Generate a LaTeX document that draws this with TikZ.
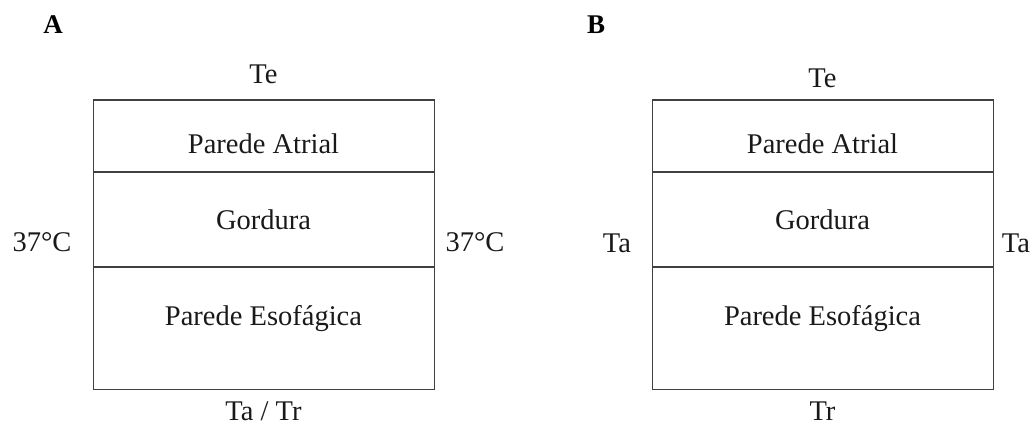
\documentclass[tikz,border=0pt]{standalone}
\usepackage{fontspec}
\setmainfont{Liberation Serif}
\begin{document}
\begin{tikzpicture}[x=1pt,y=-1pt,
  box/.style={draw=black!75,line width=1.3pt,minimum width=341pt,minimum height=289.5pt,inner sep=0pt,anchor=north west},
  sep/.style={draw=black!75,line width=1.3pt},
  lbl/.style={font=\fontsize{28.5}{32}\selectfont,anchor=base,inner sep=0pt,text=black!90},
  panel/.style={font=\fontsize{27}{30}\selectfont\bfseries,anchor=base,inner sep=0pt}]
\useasboundingbox (0,0) rectangle (1032,427);
% Panel A
\node[panel] (pA) at (53,34) {A};
\node[box] (a) at (93,99.5) {};
\draw[sep] ([yshift=-72.5pt]a.north west) -- ([yshift=-72.5pt]a.north east);
\draw[sep] ([yshift=-167.5pt]a.north west) -- ([yshift=-167.5pt]a.north east);
\node[lbl] (aTe) at (263.5,84) {Te};
\node[lbl] (aPA) at (263.5,154) {Parede Atrial};
\node[lbl] (aG) at (263.5,230) {Gordura};
\node[lbl] (aPE) at (263.5,325) {Parede Esofágica};
\node[lbl] (aL) at (42,252) {37°C};
\node[lbl] (aR) at (475,252) {37°C};
\node[lbl] (aB) at (263.5,420) {Ta / Tr};
% Panel B
\node[panel] (pB) at (596,34) {B};
\node[box] (b) at (652,99.5) {};
\draw[sep] ([yshift=-72.5pt]b.north west) -- ([yshift=-72.5pt]b.north east);
\draw[sep] ([yshift=-167.5pt]b.north west) -- ([yshift=-167.5pt]b.north east);
\node[lbl] (bTe) at (822.5,88) {Te};
\node[lbl] (bPA) at (822.5,154) {Parede Atrial};
\node[lbl] (bG) at (822.5,230) {Gordura};
\node[lbl] (bPE) at (822.5,325) {Parede Esofágica};
\node[lbl] (bL) at (617,253) {Ta};
\node[lbl] (bR) at (1016,253) {Ta};
\node[lbl] (bB) at (822.5,420) {Tr};
\end{tikzpicture}
\end{document}
